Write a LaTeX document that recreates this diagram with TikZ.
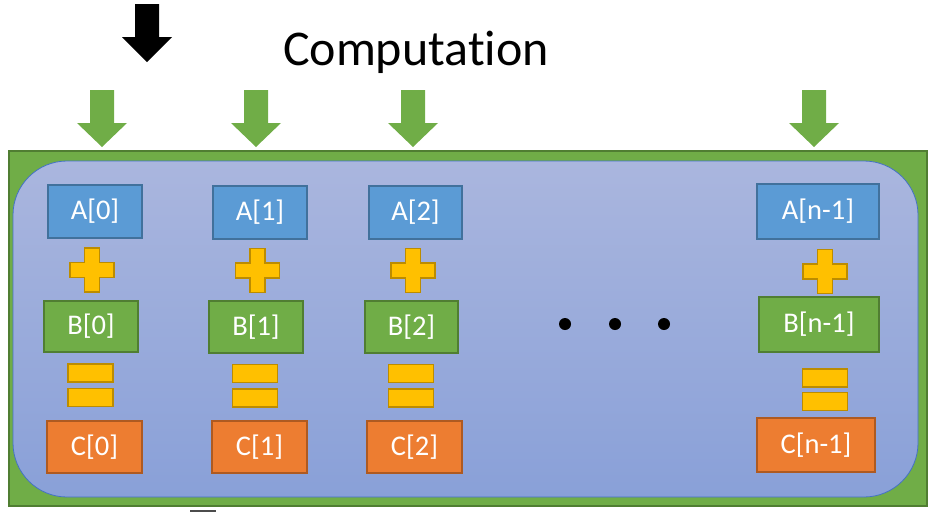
\documentclass[tikz,border=0pt]{standalone}
\usepackage{fontspec}
\setmainfont{Carlito}[Ligatures=NoCommon]
\definecolor{oblue}{HTML}{5B9BD5}
\definecolor{obluel}{HTML}{41719C}
\definecolor{ogreen}{HTML}{70AD47}
\definecolor{ogreenl}{HTML}{507E32}
\definecolor{oorange}{HTML}{ED7D31}
\definecolor{oorangel}{HTML}{AE5A21}
\definecolor{oyellow}{HTML}{FFC000}
\definecolor{oyellowl}{HTML}{BC8C00}
\begin{document}
\begin{tikzpicture}[x=1pt,y=-1pt,line join=miter,
	cell/.style={draw,line width=2pt,text=white,inner sep=0pt,font=\fontsize{28.5}{32}\selectfont},
	abox/.style={cell,fill=oblue,draw=obluel},
	bbox/.style={cell,fill=ogreen,draw=ogreenl},
	cbox/.style={cell,fill=oorange,draw=oorangel},
	bar/.style={draw=oyellowl,fill=oyellow,line width=1.5pt,minimum width=45pt,minimum height=18pt,inner sep=0pt},
	plusmark/.style={draw=oyellowl,fill=oyellow,line width=1.5pt}]
	\useasboundingbox (0,0) rectangle (936,512);
	% frame
	\draw[fill=ogreen,draw=ogreenl,line width=2pt] (9,151) rectangle (927,506);
	\shade[top color={rgb,255:red,170;green,182;blue,222},bottom color={rgb,255:red,137;green,160;blue,216},rounded corners=54pt] (13,161) rectangle (918,497);
	\draw[draw={rgb,255:red,68;green,114;blue,196},line width=0.8pt,rounded corners=54pt] (13,161) rectangle (918,497);
	% arrows
	\fill[black] (135,4)--(159,4)--(159,37)--(172,37)--(147,62)--(122,37)--(135,37)--cycle;
	\foreach \c in {102,256,413,814}
		\fill[ogreen] (\c-12,90)--(\c+12,90)--(\c+12,123)--(\c+25,123)--(\c,147)--(\c-25,123)--(\c-12,123)--cycle;
	\node[anchor=base,font=\fontsize{50}{60}\selectfont] (title) at (416,65) {Computation};
	% column 0
	\node[abox,minimum width=94pt,minimum height=53pt] (a0) at (95,211.5) {A[0]};
	\node[bbox,minimum width=94pt,minimum height=51pt] (b0) at (91,326.5) {B[0]};
	\node[cbox,minimum width=95pt,minimum height=52pt] (c0) at (94.5,447) {C[0]};
	\node[bar] (e0u) at (90.5,373) {};
	\node[bar] (e0d) at (90.5,397.5) {};
	% column 1
	\node[abox,minimum width=94pt,minimum height=53pt] (a1) at (260,212) {A[1]};
	\node[bbox,minimum width=94pt,minimum height=52pt] (b1) at (256,327) {B[1]};
	\node[cbox,minimum width=95pt,minimum height=52pt] (c1) at (259.5,447) {C[1]};
	\node[bar] (e1u) at (255,373.5) {};
	\node[bar] (e1d) at (255,398) {};
	% column 2
	\node[abox,minimum width=93pt,minimum height=53pt] (a2) at (415.5,212) {A[2]};
	\node[bbox,minimum width=93pt,minimum height=52pt] (b2) at (411.5,327) {B[2]};
	\node[cbox,minimum width=95pt,minimum height=52pt] (c2) at (414.5,447) {C[2]};
	\node[bar] (e2u) at (411,373.5) {};
	\node[bar] (e2d) at (411,398) {};
	% column n-1
	\node[abox,minimum width=122pt,minimum height=55pt] (an) at (818,211.5) {A[n-1]};
	\node[bbox,minimum width=120pt,minimum height=55pt] (bn) at (819,324.5) {B[n-1]};
	\node[cbox,minimum width=118pt,minimum height=54pt] (cn) at (816,445) {C[n-1]};
	\node[bar] (enu) at (825,378) {};
	\node[bar] (end) at (825,401.5) {};
	% plus signs
	\foreach \x/\y in {92/270,257.5/270.5,413/270.5,825/271.5}
		\draw[plusmark] (\x-7.5,\y-22)--(\x+7.5,\y-22)--(\x+7.5,\y-7.5)--(\x+22,\y-7.5)--(\x+22,\y+7.5)--(\x+7.5,\y+7.5)--(\x+7.5,\y+22)--(\x-7.5,\y+22)--(\x-7.5,\y+7.5)--(\x-22,\y+7.5)--(\x-22,\y-7.5)--(\x-7.5,\y-7.5)--cycle;
	% dots
	\fill (565,324)circle(6pt) (615,324)circle(6pt) (664,324)circle(6pt);
	\fill[black!70] (190,509.5) rectangle (216,512);
\end{tikzpicture}
\end{document}
